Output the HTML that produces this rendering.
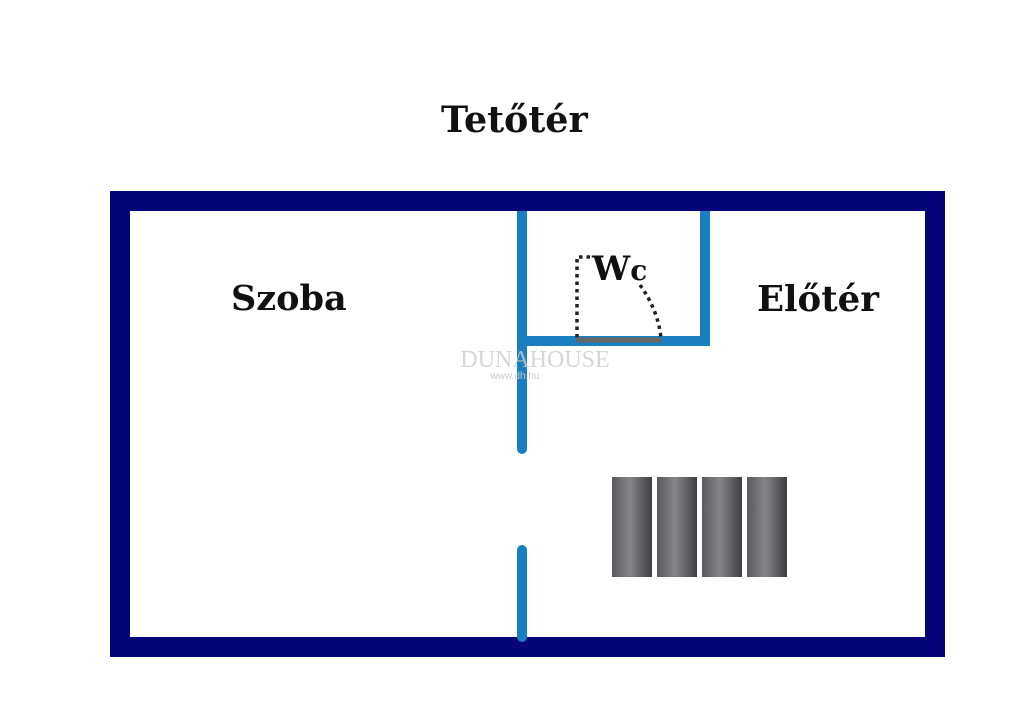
<!DOCTYPE html>
<html><head><meta charset="utf-8"><style>
html,body{margin:0;padding:0;background:#fff;}
body{width:1024px;height:722px;position:relative;overflow:hidden;}
.t{position:absolute;font-family:"DejaVu Serif","Liberation Serif",serif;font-weight:bold;color:#111;white-space:nowrap;line-height:1;}
</style></head><body>
<svg width="1024" height="722" style="position:absolute;left:0;top:0">
<defs>
<linearGradient id="g" x1="0" x2="1" y1="0" y2="0">
<stop offset="0" stop-color="#5a5a5e"/><stop offset="0.45" stop-color="#85858a"/><stop offset="1" stop-color="#3e3e42"/>
</linearGradient>
</defs>
<rect x="120" y="201" width="815" height="446" fill="none" stroke="#050579" stroke-width="20"/>
<g stroke="#1a7fc0" stroke-width="10" fill="none">
<path d="M522,211 L522,448" />
<circle cx="522" cy="448" r="0.1" stroke-linecap="round"/>
<line x1="522" y1="550" x2="522" y2="637" stroke-linecap="round"/>
<polyline points="522,341 705,341 705,211"/>
</g>
<circle cx="522" cy="449" r="5" fill="#1a7fc0"/>
<line x1="576" y1="340" x2="662" y2="340" stroke="#666" stroke-width="5"/>
<path d="M590,257 L577,257 L577,338" fill="none" stroke="#222" stroke-width="3.5" stroke-dasharray="3.5,4"/>
<path d="M640,285 Q658,310 661,338" fill="none" stroke="#222" stroke-width="3.5" stroke-dasharray="3.5,4"/>
<rect x="612" y="477" width="40" height="100" fill="url(#g)"/>
<rect x="657" y="477" width="40" height="100" fill="url(#g)"/>
<rect x="702" y="477" width="40" height="100" fill="url(#g)"/>
<rect x="747" y="477" width="40" height="100" fill="url(#g)"/>
<text x="535" y="367" font-family="Liberation Serif,serif" font-size="24" fill="#ccc" text-anchor="middle" opacity="0.8">DUNAHOUSE</text>
<text x="515" y="379" font-family="Liberation Sans,sans-serif" font-size="10" fill="#ccc" text-anchor="middle">www.dh.hu</text>
</svg>
<div class="t" style="left:441px;top:102px;font-size:36.5px">Tetőtér</div>
<div class="t" style="left:231px;top:281px;font-size:35px">Szoba</div>
<div class="t" style="left:757px;top:282px;font-size:35.5px">Előtér</div>
<div class="t" style="left:592px;top:252px;font-size:34px">W<span style="font-size:28px">c</span></div>
</body></html>
